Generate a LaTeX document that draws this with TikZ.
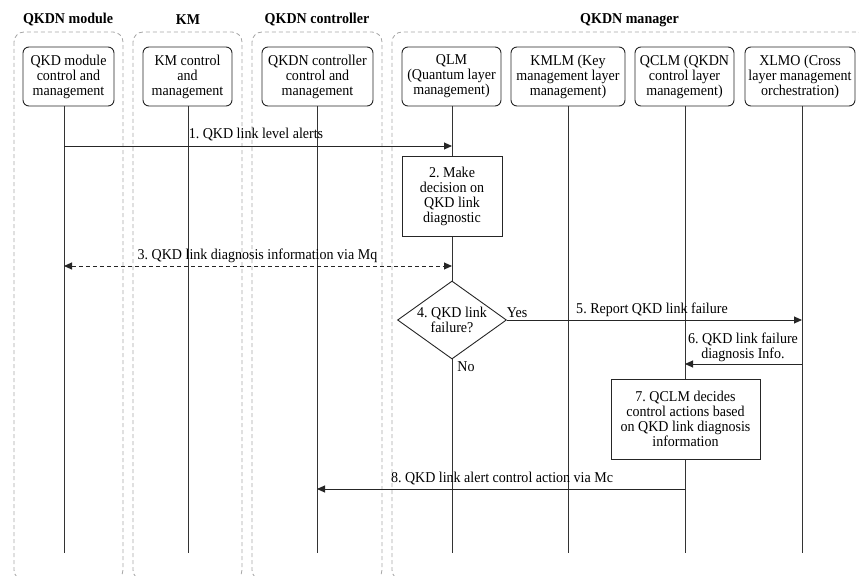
\documentclass[tikz,border=0pt]{standalone}
\usepackage{fontspec}
\setmainfont{Liberation Serif}[FakeStretch=0.935]
\usetikzlibrary{shapes.geometric,arrows.meta}
\frenchspacing
\begin{document}
\begin{tikzpicture}[x=1bp,y=-1bp,
  every node/.style={font=\fontsize{15bp}{15bp}\selectfont, inner sep=0pt},
  groupbox/.style={draw=black!35, dash pattern=on 4bp off 3bp, rounded corners=10bp, line width=0.8bp},
  grouptitle/.style={font=\fontsize{15bp}{15bp}\selectfont\bfseries},
  headbox/.style={draw=black!85, rounded corners=6bp, line width=0.9bp, align=center, minimum height=59bp, fill=white},
  actbox/.style={draw=black!85, line width=0.9bp, align=center, fill=white},
  lifeline/.style={draw=black!80, line width=1bp},
  msg/.style={draw=black!85, line width=0.9bp, -{Triangle[length=8bp,width=7bp]}},
  dmsg/.style={draw=black!85, line width=0.9bp, dash pattern=on 4bp off 3bp, {Triangle[length=8bp,width=7bp]}-{Triangle[length=8bp,width=7bp]}},
  lbl/.style={align=center}
]
\useasboundingbox (0,0) rectangle (859,576);
% group boxes
\draw[groupbox] (14,32) rectangle (123,580);
\draw[groupbox] (133,32) rectangle (242,580);
\draw[groupbox] (252,32) rectangle (382,580);
\draw[groupbox] (392,32) rectangle (868,580);
\node[grouptitle] (gmod) at (68,20) {QKDN module};
\node[grouptitle] (gkm) at (188,20) {KM};
\node[grouptitle] (gctl) at (317,20) {QKDN controller};
\node[grouptitle] (gmgr) at (629.5,20) {QKDN manager};
% lifeline ends
\coordinate (modE) at (64,553);
\coordinate (kmE) at (188,553);
\coordinate (ctlE) at (317,553);
\coordinate (qlmE) at (452,553);
\coordinate (kmlmE) at (568,553);
\coordinate (qclmE) at (685,553);
\coordinate (xlmoE) at (802,553);
% header boxes
\node[headbox, minimum width=91bp] (mod) at (68.5,76.5) {QKD module\\control and\\management};
\node[headbox, minimum width=89bp] (km) at (187.5,76.5) {KM control\\and\\management};
\node[headbox, minimum width=111bp] (ctl) at (317.5,76.5) {QKDN controller\\control and\\management};
\node[headbox, minimum width=99bp] (qlm) at (451.5,76.5) {QLM\\(Quantum layer\\management)};
\node[headbox, minimum width=114bp] (kmlm) at (568,76.5) {KMLM (Key\\management layer\\management)};
\node[headbox, minimum width=99bp] (qclm) at (684.5,76.5) {QCLM (QKDN\\control layer\\management)};
\node[headbox, minimum width=110bp] (xlmo) at (800,76.5) {XLMO (Cross\\layer management\\orchestration)};
% lifelines
\draw[lifeline] (modE |- mod.south) -- (modE);
\draw[lifeline] (kmE |- km.south) -- (kmE);
\draw[lifeline] (ctlE |- ctl.south) -- (ctlE);
\draw[lifeline] (qlmE |- qlm.south) -- (qlmE);
\draw[lifeline] (kmlmE |- kmlm.south) -- (kmlmE);
\draw[lifeline] (qclmE |- qclm.south) -- (qclmE);
\draw[lifeline] (xlmoE |- xlmo.south) -- (xlmoE);
% message 1
\coordinate (m1a) at (64,146);
\coordinate (m1b) at (452,146);
\draw[msg] (m1a) -- (m1b);
\node[lbl] (l1) at (256,135) {1. QKD link level alerts};
% step 2
\node[actbox, minimum width=100bp, minimum height=80bp] (s2) at (452,196) {2. Make\\decision on\\QKD link\\diagnostic};
% message 3
\coordinate (m3a) at (64,266);
\coordinate (m3b) at (452,266);
\draw[dmsg] (m3a) -- (m3b);
\node[lbl] (l3) at (257.5,256) {3. QKD link diagnosis information via Mq};
% decision 4
\node[diamond, draw=black!85, line width=0.9bp, fill=white, minimum width=109bp, minimum height=78bp] (d4) at (452,320) {};
\node[lbl] (d4t) at (d4) {4. QKD link\\failure?};
\node (yes) at (517,313) {Yes};
\node (no) at (466,367) {No};
% message 5
\coordinate (m5b) at (802,320);
\draw[msg] (d4.east) -- (m5b);
\node[lbl] (l5) at (652,310) {5. Report QKD link failure};
% message 6
\coordinate (m6a) at (802,364);
\coordinate (m6b) at (685,364);
\draw[msg] (m6a) -- (m6b);
\node[lbl] (l6) at (743,347) {6. QKD link failure\\diagnosis Info.};
% step 7
\node[actbox, minimum width=149bp, minimum height=80bp] (s7) at (685.5,419) {7. QCLM decides\\control actions based\\on QKD link diagnosis\\information};
% message 8
\coordinate (m8a) at (685,489);
\coordinate (m8b) at (317,489);
\draw[msg] (m8a) -- (m8b);
\node[lbl] (l8) at (502,479) {8. QKD link alert control action via Mc};
\end{tikzpicture}
\end{document}
